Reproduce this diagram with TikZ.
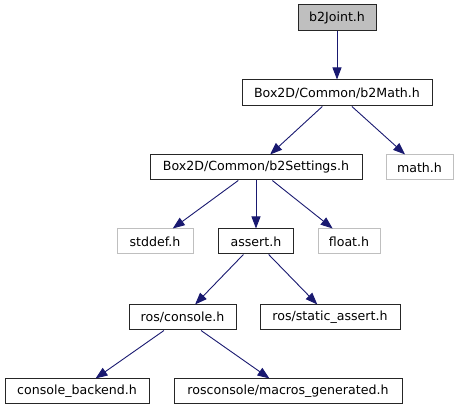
\documentclass[tikz,border=0pt]{standalone}
\usepackage{fontspec}
\setmainfont{DejaVu Sans}
\usetikzlibrary{arrows.meta}
\definecolor{edgeblue}{HTML}{191970}
\definecolor{boxgray}{HTML}{BFBFBF}
\definecolor{bordergray}{HTML}{BFBFBF}
\begin{document}
\begin{tikzpicture}[x=1pt,y=-1pt,
  box/.style={draw=black!85, line width=1pt, inner sep=0pt, font=\fontsize{12.6}{14}\selectfont},
  ext/.style={box, draw=bordergray},
  cur/.style={box, fill=boxgray},
  dep/.style={draw=edgeblue, line width=0.9pt, -{Triangle[length=12pt,width=9pt]}}]
\useasboundingbox (0,0) rectangle (459,411);
\def\mk#1#2#3#4#5#6#7{\node[#2, minimum width={#5-#3}, minimum height={#6-#4}] (#1) at ({(#3+#5)/2},{(#4+#6)/2}) {#7};}
\mk{joint}{cur}{298}{5}{376}{31}{b2Joint.h}
\mk{bmath}{box}{242}{80}{432}{106}{Box2D/Common/b2Math.h}
\mk{settings}{box}{150}{155}{362}{180}{Box2D/Common/b2Settings.h}
\mk{mathh}{ext}{386}{155}{453}{180}{math.h}
\mk{stddef}{ext}{117}{229}{193}{254}{stddef.h}
\mk{assert}{box}{218.5}{229}{293.5}{254}{assert.h}
\mk{float}{ext}{318}{229}{380}{254}{float.h}
\mk{console}{box}{129}{305}{236}{330}{ros/console.h}
\mk{static}{box}{260}{305}{400}{330}{ros/static\_assert.h}
\mk{backend}{box}{5}{379}{149}{404}{console\_backend.h}
\mk{macros}{box}{174}{379}{402}{404}{rosconsole/macros\_generated.h}
\draw[dep] (joint) -- (bmath);
\draw[dep] (bmath) -- (settings);
\draw[dep] (bmath) -- (mathh);
\draw[dep] (settings) -- (stddef);
\draw[dep] (settings) -- (assert);
\draw[dep] (settings) -- (float);
\draw[dep] (assert) -- (console);
\draw[dep] (assert) -- (static);
\draw[dep] (console) -- (backend);
\draw[dep] (console) -- (macros);
\end{tikzpicture}
\end{document}
